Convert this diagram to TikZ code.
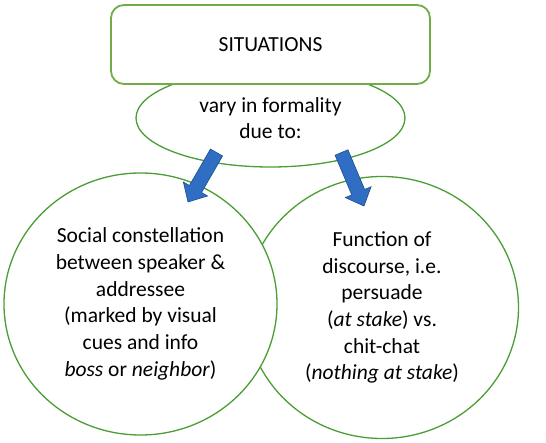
\documentclass[tikz,border=0pt]{standalone}
\usepackage{fontspec}
\setmainfont{Carlito}
\usetikzlibrary{shapes.geometric,calc}
\definecolor{boxgreen}{HTML}{70AD47}
\definecolor{linegreen}{HTML}{4A9E35}
\definecolor{arrowblue}{HTML}{2F6EC2}
\definecolor{arrowedge}{HTML}{1F4E8C}
\newcommand{\BlkArrow}[2]{%
  \coordinate (#1b) at ($(#2)!15pt!(#1)$);
  \filldraw[blockarrow] ($(#1)!7pt!90:(#2)$) -- ($(#1b)!7pt!90:(#2)$) -- ($(#1b)!14pt!90:(#2)$) -- (#2)
    -- ($(#1b)!14pt!-90:(#2)$) -- ($(#1b)!7pt!-90:(#2)$) -- ($(#1)!7pt!-90:(#2)$) -- cycle;}
\begin{document}
\begin{tikzpicture}[x=1pt,y=-1pt,
  txt/.style={font=\fontsize{21.5}{26.7}\selectfont, align=center},
  bigoval/.style={ellipse, draw=linegreen, line width=1.3pt, fill=white, inner sep=0pt,
    minimum width=273pt, minimum height=262pt, txt},
  blockarrow/.style={fill=arrowblue, draw=arrowedge, line width=0.6pt, line join=miter}]
\useasboundingbox (0,0) rectangle (546,443);
\node[bigoval] (R) at (382,307.5) {Function of\\discourse, i.e.\\persuade\\(\textit{at stake}) vs.\\chit-chat\\(\textit{nothing at stake})};
\node[bigoval] (L) at (140.5,304) {Social constellation\\between speaker \&\\addressee\\(marked by visual\\cues and info\\\textit{boss} or \textit{neighbor})};
\node[ellipse, draw=linegreen, line width=1.3pt, fill=white, inner sep=0pt,
  minimum width=269pt, minimum height=98pt, txt] (V) at (270.5,118) {vary in formality\\due to:};
\node[draw=boxgreen, line width=1.8pt, fill=white, rounded corners=13pt,
  minimum width=319pt, minimum height=79pt, txt] (S) at (270.5,44.5) {SITUATIONS};
\coordinate (a1) at (216.5,152.5);
\coordinate (p1) at (188,202);
\coordinate (a2) at (341.5,152.5);
\coordinate (p2) at (364,206);
\BlkArrow{a1}{p1}
\BlkArrow{a2}{p2}
\end{tikzpicture}
\end{document}
